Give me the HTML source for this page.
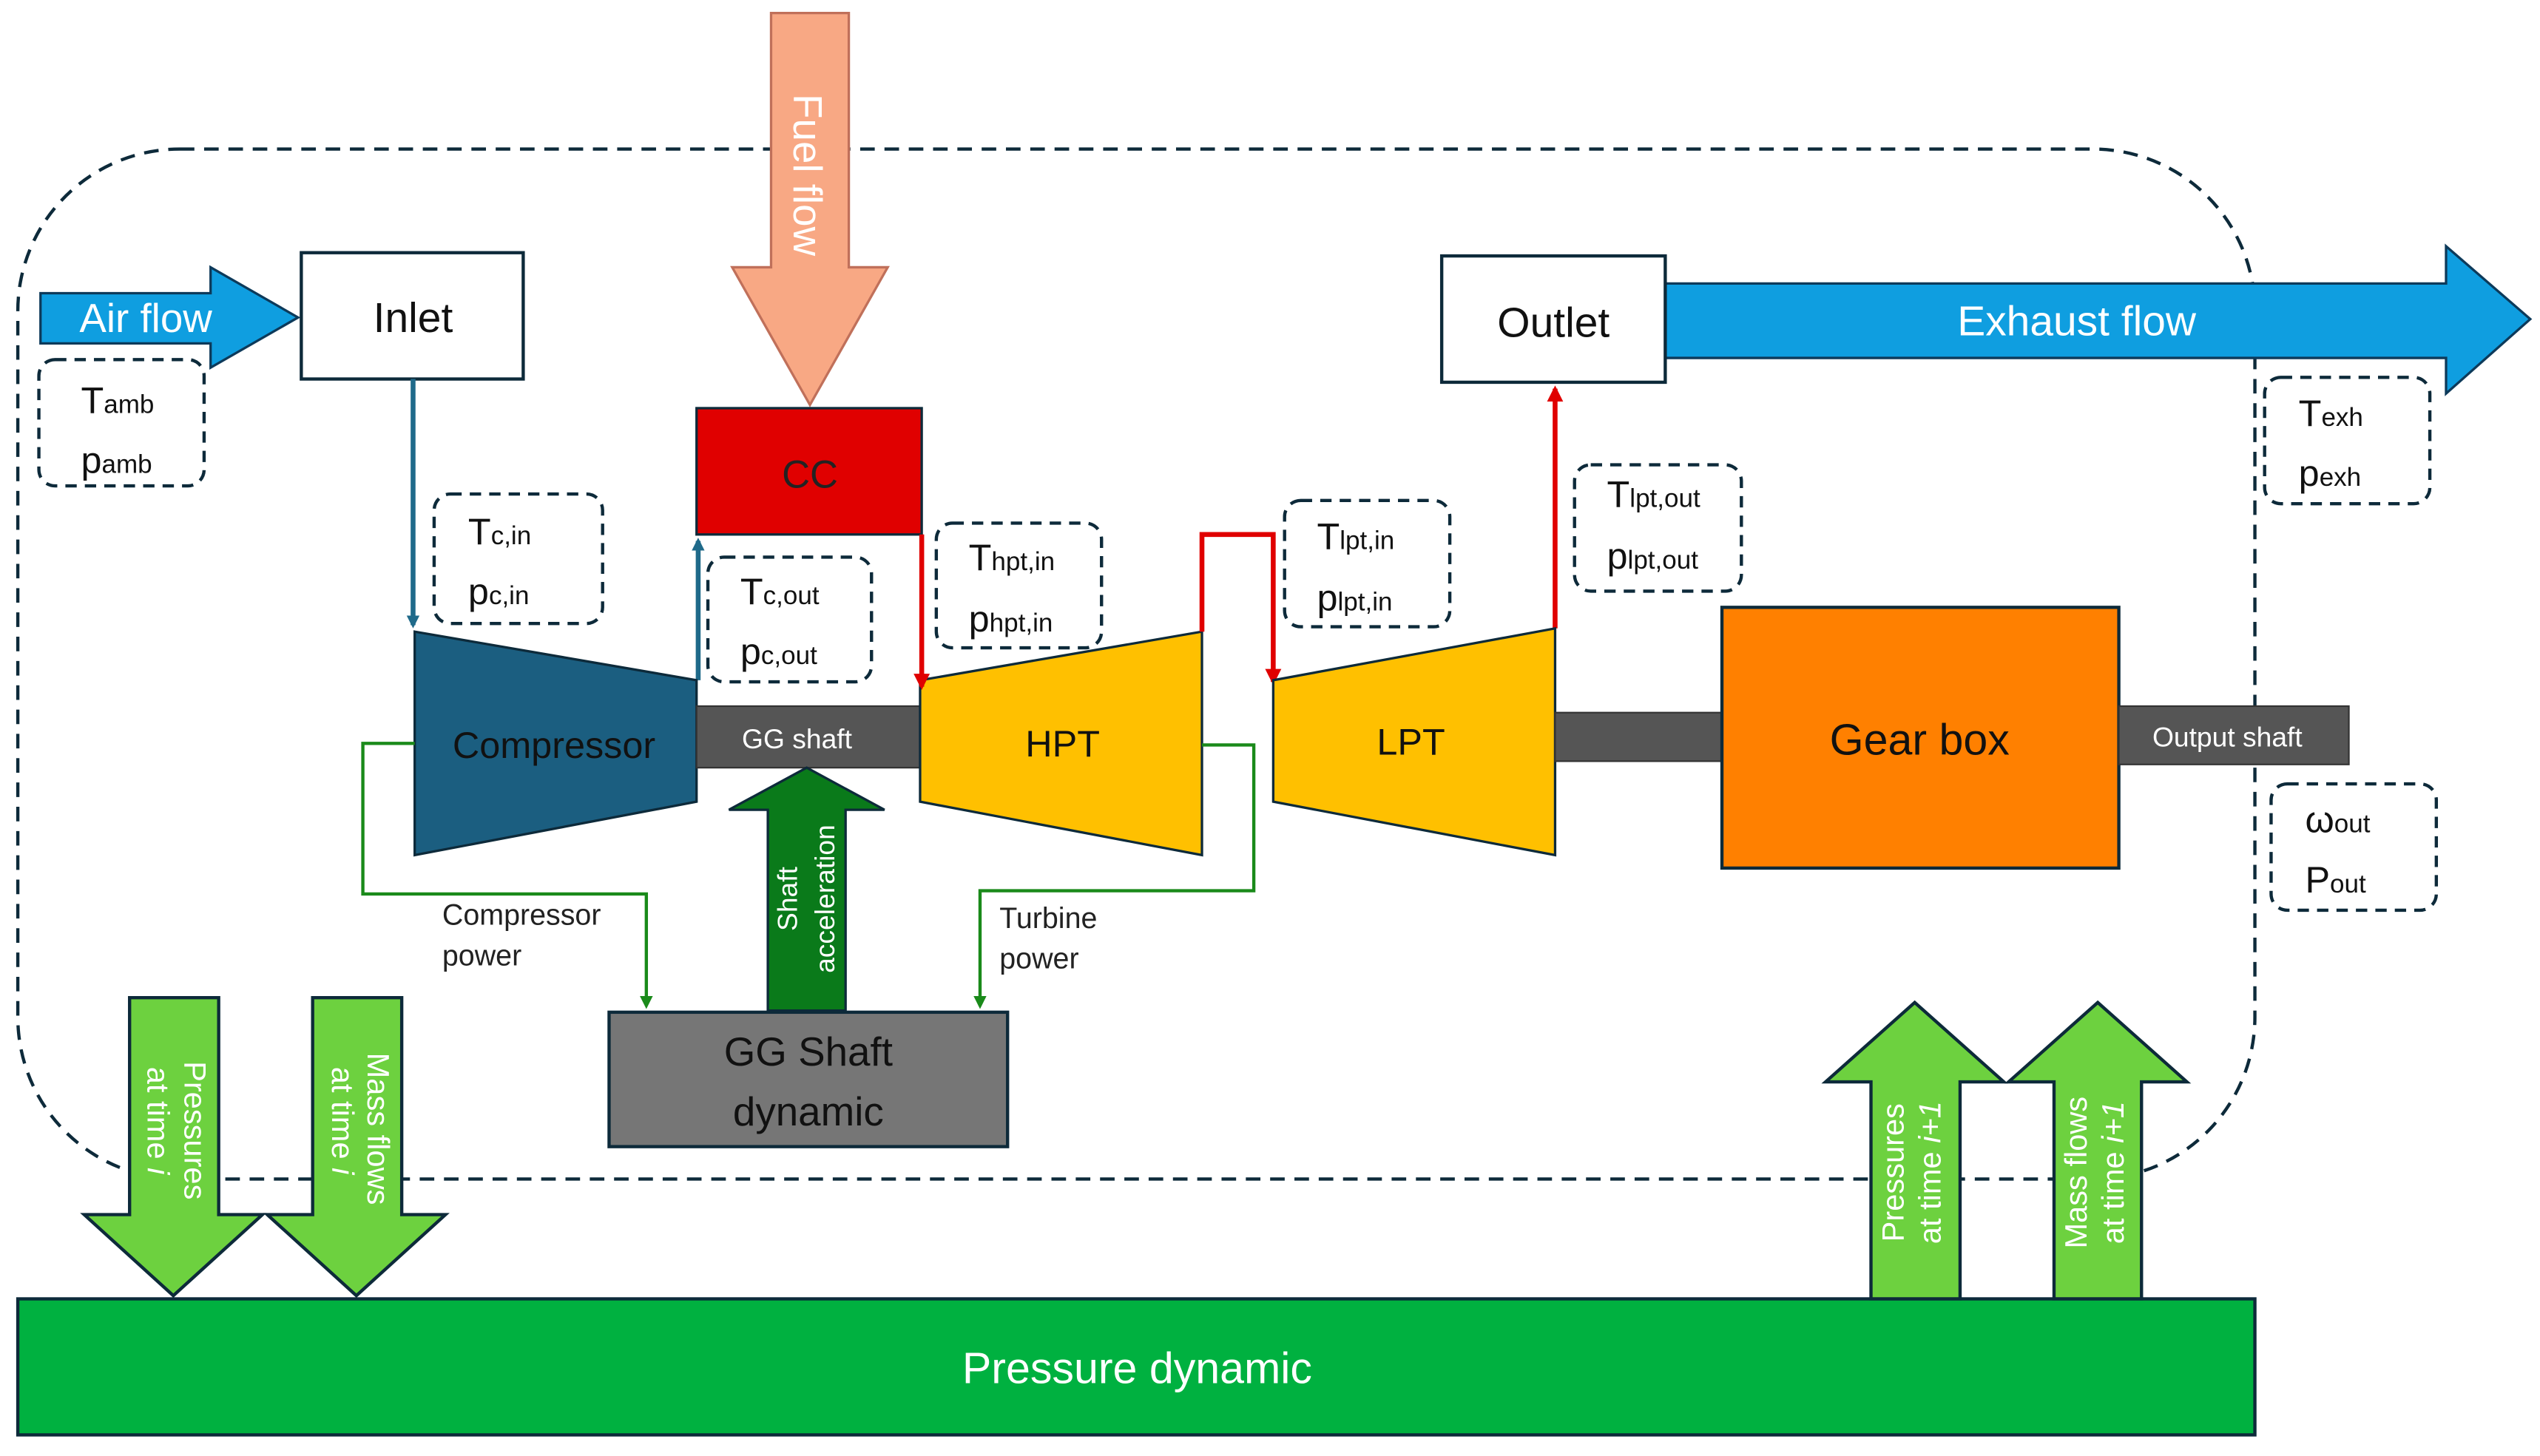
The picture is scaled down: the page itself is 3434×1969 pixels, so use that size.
<!DOCTYPE html>
<html><head><meta charset="utf-8"><style>
html,body{margin:0;padding:0;background:#fff;}
svg{display:block;}
text{font-family:"Liberation Sans","DejaVu Sans",sans-serif;}
</style></head><body>
<svg width="3434" height="1969" viewBox="0 0 1568 899" xmlns="http://www.w3.org/2000/svg">
<defs>
<marker id="ab" markerWidth="8" markerHeight="8" refX="6" refY="4" orient="auto" markerUnits="userSpaceOnUse"><path d="M0,0 L8,4 L0,8 z" fill="#1f6a8a"/></marker>
<marker id="ar" markerWidth="10" markerHeight="10" refX="8" refY="5" orient="auto" markerUnits="userSpaceOnUse"><path d="M0,0 L10,5 L0,10 z" fill="#e00000"/></marker>
<marker id="ag" markerWidth="8" markerHeight="8" refX="6" refY="4" orient="auto" markerUnits="userSpaceOnUse"><path d="M0,0 L8,4 L0,8 z" fill="#1a8a1a"/></marker>
</defs>
<!-- dashed boundary -->
<rect x="11" y="92" width="1381" height="636" rx="100" ry="100" fill="none" stroke="#0d2a3a" stroke-width="2" stroke-dasharray="9,6"/>
<!-- Pressure dynamic -->
<rect x="11" y="802" width="1381" height="84" fill="#00b140" stroke="#0d2a3a" stroke-width="2"/>
<text x="702" y="854" font-size="27" fill="#fff" text-anchor="middle">Pressure dynamic</text>
<!-- Air flow -->
<path d="M25,181 H130 V165 L184,196 L130,227 V212 H25 Z" fill="#0f9ee0" stroke="#0d3a5a" stroke-width="1.5"/>
<text x="90" y="205" font-size="25" fill="#fff" text-anchor="middle">Air flow</text>
<rect x="186" y="156" width="137" height="78" fill="#fff" stroke="#0d2a3a" stroke-width="2"/>
<text x="255" y="205" font-size="26" fill="#111" text-anchor="middle">Inlet</text>
<!-- dashed boxes -->
<g fill="#fff" stroke="#0d2a3a" stroke-width="2" stroke-dasharray="7,5">
<rect x="24" y="222" width="102" height="78" rx="10"/>
<rect x="268" y="305" width="104" height="80" rx="10"/>
<rect x="437" y="344" width="101" height="77" rx="10"/>
<rect x="578" y="323" width="102" height="77" rx="10"/>
<rect x="793" y="309" width="102" height="78" rx="10"/>
<rect x="972" y="287" width="103" height="78" rx="10"/>
<rect x="1398" y="233" width="102" height="78" rx="10"/>
<rect x="1402" y="484" width="102" height="78" rx="10"/>
</g>
<g font-size="23" fill="#111">
<text x="50" y="255">T<tspan font-size="16">amb</tspan></text>
<text x="50" y="292">p<tspan font-size="16">amb</tspan></text>
<text x="289" y="336">T<tspan font-size="16">c,in</tspan></text>
<text x="289" y="373">p<tspan font-size="16">c,in</tspan></text>
<text x="457" y="373">T<tspan font-size="16">c,out</tspan></text>
<text x="457" y="410">p<tspan font-size="16">c,out</tspan></text>
<text x="598" y="352">T<tspan font-size="16">hpt,in</tspan></text>
<text x="598" y="390">p<tspan font-size="16">hpt,in</tspan></text>
<text x="813" y="339">T<tspan font-size="16">lpt,in</tspan></text>
<text x="813" y="377">p<tspan font-size="16">lpt,in</tspan></text>
<text x="992" y="313">T<tspan font-size="16">lpt,out</tspan></text>
<text x="992" y="351">p<tspan font-size="16">lpt,out</tspan></text>
<text x="1419" y="263">T<tspan font-size="16">exh</tspan></text>
<text x="1419" y="300">p<tspan font-size="16">exh</tspan></text>
<text x="1423" y="514">ω<tspan font-size="16">out</tspan></text>
<text x="1423" y="551">P<tspan font-size="16">out</tspan></text>
</g>
<!-- fuel flow -->
<path d="M476,8 H524 V165 H548 L500,250 L452,165 H476 Z" fill="#f8a884" stroke="#c0705a" stroke-width="1.5"/>
<text transform="translate(490,108) rotate(90)" font-size="25" fill="#fff" text-anchor="middle">Fuel flow</text>
<rect x="430" y="252" width="139" height="78" fill="#e00000" stroke="#0d2a3a" stroke-width="1.5"/>
<text x="500" y="301" font-size="24" fill="#222" text-anchor="middle">CC</text>
<!-- blue connectors -->
<line x1="255" y1="234" x2="255" y2="386" stroke="#1f6a8a" stroke-width="3" marker-end="url(#ab)"/>
<line x1="431" y1="420" x2="431" y2="334" stroke="#1f6a8a" stroke-width="3" marker-end="url(#ab)"/>
<!-- compressor -->
<polygon points="256,390 430,420 430,495 256,528" fill="#1b5e80" stroke="#0d2a3a" stroke-width="1.5"/>
<text x="342" y="468" font-size="23" fill="#111" text-anchor="middle">Compressor</text>
<rect x="430" y="436" width="138" height="38" fill="#555" stroke="#333"/>
<text x="492" y="462" font-size="17" fill="#fff" text-anchor="middle">GG shaft</text>
<!-- HPT -->
<polygon points="568,420 742,390 742,528 568,495" fill="#ffc000" stroke="#0d2a3a" stroke-width="1.5"/>
<text x="656" y="467" font-size="23" fill="#111" text-anchor="middle">HPT</text>
<!-- red connectors -->
<line x1="569" y1="330" x2="569" y2="424" stroke="#e00000" stroke-width="3" marker-end="url(#ar)"/>
<polyline points="742,390 742,330 786,330 786,421" fill="none" stroke="#e00000" stroke-width="3" marker-end="url(#ar)"/>
<line x1="960" y1="388" x2="960" y2="240" stroke="#e00000" stroke-width="3" marker-end="url(#ar)"/>
<!-- LPT -->
<polygon points="786,420 960,388 960,528 786,495" fill="#ffc000" stroke="#0d2a3a" stroke-width="1.5"/>
<text x="871" y="466" font-size="23" fill="#111" text-anchor="middle">LPT</text>
<rect x="960" y="440" width="103" height="30" fill="#555" stroke="#333"/>
<rect x="1063" y="375" width="245" height="161" fill="#ff8000" stroke="#0d2a3a" stroke-width="2"/>
<text x="1185" y="466" font-size="27" fill="#111" text-anchor="middle">Gear box</text>
<rect x="1308" y="436" width="142" height="36" fill="#555" stroke="#333"/>
<text x="1375" y="461" font-size="17" fill="#fff" text-anchor="middle">Output shaft</text>
<!-- Outlet + exhaust -->
<path d="M1028,175 H1510 V152 L1562,197 L1510,243 V221 H1028 Z" fill="#0f9ee0" stroke="#0d3a5a" stroke-width="1.5"/>
<text x="1282" y="207" font-size="26" fill="#fff" text-anchor="middle">Exhaust flow</text>
<rect x="890" y="158" width="138" height="78" fill="#fff" stroke="#0d2a3a" stroke-width="2"/>
<text x="959" y="208" font-size="26" fill="#111" text-anchor="middle">Outlet</text>
<!-- green power lines -->
<polyline points="256,459 224,459 224,552 399,552 399,621" fill="none" stroke="#1a8a1a" stroke-width="2" marker-end="url(#ag)"/>
<polyline points="742,460 774,460 774,550 605,550 605,621" fill="none" stroke="#1a8a1a" stroke-width="2" marker-end="url(#ag)"/>
<text x="273" y="571" font-size="18" fill="#222">Compressor</text>
<text x="273" y="596" font-size="18" fill="#222">power</text>
<text x="617" y="573" font-size="18" fill="#222">Turbine</text>
<text x="617" y="598" font-size="18" fill="#222">power</text>
<!-- shaft acceleration -->
<path d="M474,624 V500 H450 L498,474 L546,500 H522 V624 Z" fill="#0a7a1a" stroke="#0d2a3a" stroke-width="1.5"/>
<text transform="translate(492,555) rotate(-90)" font-size="17" fill="#fff" text-anchor="middle">Shaft</text>
<text transform="translate(515,555) rotate(-90)" font-size="17" fill="#fff" text-anchor="middle">acceleration</text>
<rect x="376" y="625" width="246" height="83" fill="#767676" stroke="#0d2a3a" stroke-width="2"/>
<text x="499" y="658" font-size="25" fill="#111" text-anchor="middle">GG Shaft</text>
<text x="499" y="695" font-size="25" fill="#111" text-anchor="middle">dynamic</text>
<!-- down arrows -->
<g fill="#6dd13f" stroke="#0d2a3a" stroke-width="2">
<path d="M80,616 H135 V750 H162 L107,800 L52,750 H80 Z"/>
<path d="M193,616 H248 V750 H275 L220,800 L165,750 H193 Z"/>
<path d="M1155,802 V668 H1127 L1182,619 L1237,668 H1210 V802 Z"/>
<path d="M1268,802 V668 H1240 L1295,619 L1350,668 H1322 V802 Z"/>
</g>
<g font-size="19" fill="#fff" text-anchor="middle">
<text transform="translate(114,698) rotate(90)">Pressures</text>
<text transform="translate(91,692) rotate(90)">at time <tspan font-style="italic">i</tspan></text>
<text transform="translate(227,697) rotate(90)">Mass flows</text>
<text transform="translate(205,692) rotate(90)">at time <tspan font-style="italic">i</tspan></text>
<text transform="translate(1175,724) rotate(-90)">Pressures</text>
<text transform="translate(1198,724) rotate(-90)">at time <tspan font-style="italic">i+1</tspan></text>
<text transform="translate(1288,724) rotate(-90)">Mass flows</text>
<text transform="translate(1311,724) rotate(-90)">at time <tspan font-style="italic">i+1</tspan></text>
</g>
</svg>
</body></html>
